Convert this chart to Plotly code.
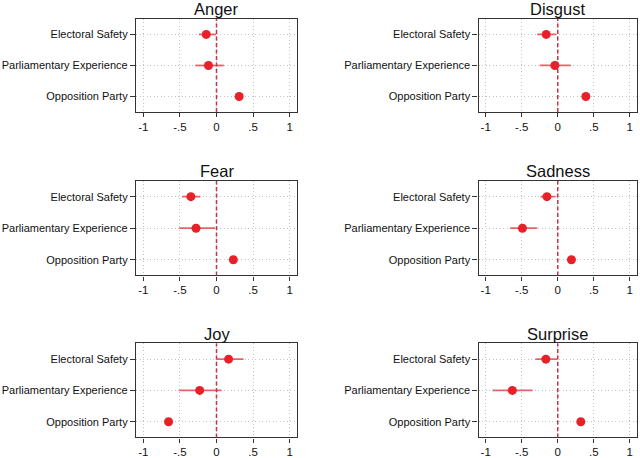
import plotly.graph_objects as go

emotions = ["Anger", "Disgust", "Fear", "Sadness", "Joy", "Surprise"]
variables = ["Electoral Safety", "Parliamentary Experience", "Opposition Party"]

# point estimates per emotion, in order of variables
estimates = {
    "Anger":    [-0.14, -0.11, 0.31],
    "Disgust":  [-0.16, -0.04, 0.39],
    "Fear":     [-0.35, -0.28, 0.23],
    "Sadness":  [-0.15, -0.49, 0.19],
    "Joy":      [0.165, -0.23, -0.655],
    "Surprise": [-0.165, -0.63, 0.32],
}
ci_low = {
    "Anger":    [-0.24, -0.29, 0.28],
    "Disgust":  [-0.285, -0.25, 0.36],
    "Fear":     [-0.47, -0.51, 0.20],
    "Sadness":  [-0.24, -0.66, 0.16],
    "Joy":      [0.0, -0.51, -0.69],
    "Surprise": [-0.31, -0.905, 0.29],
}
ci_high = {
    "Anger":    [-0.005, 0.10, 0.34],
    "Disgust":  [-0.02, 0.18, 0.42],
    "Fear":     [-0.22, -0.02, 0.26],
    "Sadness":  [-0.03, -0.285, 0.22],
    "Joy":      [0.37, 0.07, -0.62],
    "Surprise": [-0.01, -0.35, 0.35],
}
tick_vals = [-1, -0.5, 0, 0.5, 1]
tick_text = ["-1", "-.5", "0", ".5", "1"]

W, H = 640, 458
col_px = [(136, 297), (478.5, 637)]
row_px = [(19, 112.5), (181.7, 276.7), (345, 439.3)]

FONT = "Liberation Sans, Arial, Helvetica, sans-serif"
RED = "#e8202a"
ERR = "rgba(232,40,50,0.72)"
VLINE = "#c2334c"
GRID = "#c4c4c4"

fig = go.Figure()
annotations = []
shapes = []
layout = {}
for i, emo in enumerate(emotions):
    r, c = divmod(i, 2)
    n = "" if i == 0 else str(i + 1)
    xa, ya = "x" + n, "y" + n
    est = estimates[emo]
    lo = ci_low[emo]
    hi = ci_high[emo]
    plus = [h - e for h, e in zip(hi, est)]
    minus = [e - l for e, l in zip(est, lo)]
    fig.add_trace(go.Scatter(
        x=est, y=variables, mode="markers", xaxis=xa, yaxis=ya,
        marker=dict(color=RED, size=9),
        error_x=dict(type="data", symmetric=False, array=plus, arrayminus=minus,
                     color=ERR, thickness=1.8, width=0),
        showlegend=False, cliponaxis=False,
    ))
    x0, x1 = col_px[c]
    y0, y1 = row_px[r]
    xd = [x0 / W, x1 / W]
    yd = [1 - y1 / H, 1 - y0 / H]
    layout["xaxis" + n] = dict(
        domain=xd, anchor=ya, range=[-1.1, 1.1], tickvals=tick_vals, ticktext=tick_text,
        showgrid=True, gridcolor=GRID, griddash="1px,2.5px", gridwidth=1,
        zeroline=False, showline=True, mirror=True, linecolor="#333333", linewidth=1.3,
        ticks="outside", ticklen=4, tickcolor="#333333", tickwidth=1,
        tickfont=dict(size=11.5, color="#111111", family=FONT),
    )
    layout["yaxis" + n] = dict(
        domain=yd, anchor=xa, type="category", categoryorder="array",
        categoryarray=variables, range=[2.5, -0.5],
        showgrid=True, gridcolor=GRID, griddash="1px,2.5px", gridwidth=1,
        zeroline=False, showline=True, mirror=True, linecolor="#333333", linewidth=1.3,
        ticks="outside", ticklen=5, tickcolor="#333333", tickwidth=1,
        tickfont=dict(size=11, color="#111111", family=FONT),
    )
    shapes.append(dict(type="line", xref=xa, yref=ya + " domain", x0=0, x1=0, y0=0, y1=1,
                       line=dict(color=VLINE, width=1.5, dash="4px,2.5px"), layer="above"))
    annotations.append(dict(text=emo, xref="paper", yref="paper",
                            x=(x0 + x1) / 2 / W, y=1 - (y0 - 10) / H,
                            xanchor="center", yanchor="middle", showarrow=False,
                            font=dict(size=16.5, color="#111111", family=FONT)))

fig.update_layout(
    width=W, height=H, margin=dict(l=0, r=0, t=0, b=0),
    paper_bgcolor="white", plot_bgcolor="white",
    annotations=annotations, shapes=shapes, **layout,
)
fig.write_html("out.html", config={"displayModeBar": False},
               post_script="document.body.style.margin='0';")
